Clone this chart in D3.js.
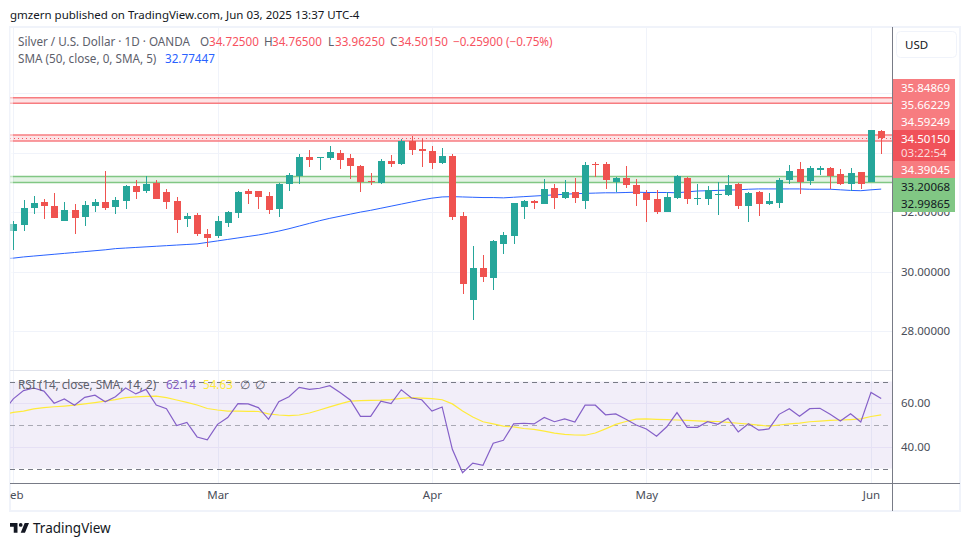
<!DOCTYPE html>
<html>
<head>
<meta charset="utf-8">
<script src="https://cdn.jsdelivr.net/npm/d3@7"></script>
<style>
    html, body { margin: 0; padding: 0; background: #fff; }
    svg { display: block; }
    text { font-family: "Noto Sans", sans-serif; white-space: pre; }
</style>
</head>
<body>
<svg width="970" height="546"></svg>
<script>
// daily candles, index 0 is Feb 3
var opens = [31.36,31.57,32.14,32.34,32.20,31.70,32.07,31.84,32.20,32.34,32.17,32.37,32.88,32.71,32.98,32.68,32.37,31.77,31.90,31.26,31.19,31.63,31.97,32.71,32.71,32.54,32.10,32.95,33.22,33.85,33.82,33.82,33.99,33.82,33.55,33.05,32.98,33.72,33.62,34.39,34.12,34.06,33.65,33.89,31.87,29.04,30.12,29.78,30.93,31.19,32.17,32.37,32.27,32.81,32.47,32.68,32.37,33.62,33.62,33.01,33.15,32.91,32.64,32.44,32.00,32.47,33.15,32.44,32.44,32.58,32.58,32.95,32.20,32.68,32.27,32.31,33.08,33.45,33.05,33.42,33.48,33.28,32.95,33.35,33.01,34.725];
var highs = [31.70,32.41,32.54,32.44,32.64,32.34,32.27,32.37,32.44,33.38,32.51,32.91,33.08,33.22,33.08,32.78,32.51,31.97,31.97,31.43,31.87,32.04,32.71,32.78,32.71,32.68,32.98,33.32,33.96,34.09,33.85,34.22,34.09,33.96,33.59,33.32,33.79,33.92,34.46,34.56,34.46,34.22,34.16,33.96,32.00,30.86,30.56,31.06,31.33,32.31,32.41,32.41,33.11,32.95,33.08,33.15,33.69,33.69,33.69,33.18,33.55,33.11,32.74,32.74,32.68,33.25,33.18,32.95,32.88,33.01,33.25,32.98,32.68,32.71,32.64,33.15,33.59,33.69,33.55,33.55,33.52,33.45,33.48,33.35,34.76,34.765];
var lows = [30.72,31.36,31.94,31.77,31.80,31.70,31.26,31.53,32.00,32.07,31.94,32.10,32.44,32.64,32.44,32.10,31.30,31.50,31.19,30.83,31.13,31.50,31.80,32.27,32.10,31.94,31.84,32.71,32.95,33.52,33.42,33.75,33.45,33.11,32.68,32.91,32.95,33.52,33.59,33.92,33.52,33.45,33.62,31.73,29.24,28.37,29.65,29.38,30.59,30.93,31.77,32.10,32.27,32.10,32.44,32.31,32.10,33.18,32.78,32.68,32.81,32.20,31.67,31.94,32.00,32.44,32.27,32.24,32.24,31.90,32.54,32.10,31.67,31.87,32.24,32.14,32.95,32.61,32.91,33.25,32.78,32.91,32.71,32.78,33.01,33.9625];
var closes = [31.60,32.14,32.31,32.20,31.80,32.07,31.80,32.24,32.34,32.14,32.41,32.88,32.68,32.95,32.44,32.34,31.73,31.87,31.26,31.13,31.70,32.00,32.68,32.61,32.51,32.07,32.95,33.25,33.85,33.75,33.85,34.02,33.75,33.55,33.01,33.01,33.72,33.62,34.39,34.09,34.06,33.65,33.89,31.84,29.58,30.12,29.81,31.03,31.23,32.31,32.37,32.31,32.78,32.47,32.68,32.47,33.59,33.59,33.08,33.15,32.91,32.61,32.41,32.00,32.51,33.22,32.44,32.47,32.74,32.61,32.91,32.20,32.64,32.27,32.37,33.08,33.38,33.01,33.48,33.48,33.22,32.95,33.32,32.95,34.76,34.5015];

// these three start one day earlier (index -1), the line runs off the left edge
var sma50 = [30.43,30.45,30.49,30.52,30.55,30.58,30.61,30.64,30.67,30.70,30.73,30.77,30.79,30.81,30.83,30.85,30.87,30.89,30.91,30.93,30.98,31.03,31.08,31.13,31.18,31.23,31.29,31.36,31.44,31.53,31.62,31.71,31.79,31.86,31.93,32.00,32.06,32.13,32.20,32.27,32.34,32.41,32.47,32.51,32.52,32.51,32.50,32.49,32.49,32.48,32.50,32.52,32.54,32.56,32.58,32.60,32.62,32.63,32.64,32.65,32.65,32.66,32.67,32.66,32.66,32.66,32.65,32.68,32.71,32.72,32.73,32.74,32.75,32.77,32.78,32.78,32.78,32.78,32.78,32.77,32.77,32.77,32.75,32.73,32.72,32.75,32.77447];
var rsi = [56,62.0,65.8,67.0,65.6,60.0,62.0,59.1,62.7,63.7,60.7,63.0,67.0,64.3,66.4,59.2,57.5,49.7,51.2,44.5,43.2,50.3,53.4,59.8,59.7,58.0,52.6,60.7,63.0,67.3,66.4,66.9,68.1,64.9,61.5,54.0,54.0,61.0,59.8,66.2,62.4,61.6,56.4,58.3,38.8,28.1,32.5,31.5,41.6,43.0,50.5,50.8,50.5,53.5,51.5,52.8,51.4,59.1,59.1,54.7,55.1,52.6,50.0,48.2,44.8,49.2,55.7,48.9,48.9,51.5,50.3,53.1,46.8,50.6,47.6,48.2,54.9,57.5,54.0,57.5,57.7,54.9,51.8,55.2,51.4,65.0,62.14];
var rsiMa = [54.8,55.8,56.4,57.4,58.0,58.4,58.7,59.1,59.7,60.3,61.0,61.7,62.6,62.9,63.2,63.3,62.6,61.5,60.4,59.2,57.6,56.9,56.4,56.4,56.3,56.2,55.1,54.6,54.3,54.6,55.5,56.9,58.3,59.7,61.0,61.2,61.3,61.4,61.7,62.2,62.6,62.4,62.1,61.6,59.7,56.4,53.7,51.5,50.5,49.5,49.1,48.4,48.0,47.2,46.3,45.7,45.4,45.3,46.3,48.2,50.3,51.6,52.7,52.8,52.6,52.5,52.3,52.1,51.9,51.7,51.6,51.2,50.8,50.4,49.9,49.5,50.0,50.5,50.9,51.5,51.8,52.1,52.3,52.5,52.8,53.9,54.63];

var monthLabels = ['Feb', 'Mar', 'Apr', 'May', 'Jun'];
var monthIndex = [0, 20, 41, 62, 84];
var priceTicks = [28, 30, 32];
var priceGrid = [28, 30, 32, 34, 36];
var rsiTicks = [40, 60];
var rsiBands = [70, 50, 30];

var redZones = [[35.84869, 35.66229], [34.59249, 34.39045]];
var greenZones = [[33.20068, 32.99865]];

var lastPrice = 34.5015;
var priceTags = [
    { text: '35.84869', kind: 'zone' },
    { text: '35.66229', kind: 'zone' },
    { text: '34.59249', kind: 'zone' },
    { text: '34.39045', kind: 'zone' },
    { text: '33.20068', kind: 'green' },
    { text: '32.99865', kind: 'green' }
];

var teal = '#26a69a';
var red = '#ef5350';
var blue = '#2962ff';
var purple = '#8560c8';
var yellow = '#ffeb3b';
var gridColor = '#f0f3fa';
var axisColor = '#787b86';
var labelColor = '#4a4e59';

var leftX = 10;
var rightX = 892;
var topY = 28;
var priceBottom = 370;
var timeAxisY = 483;
var axisFont = 11.5;

var svg = d3.select('svg');

var x = d3.scaleLinear().domain([0, 85]).range([13.3, 881.2]);
var y = d3.scaleLinear().domain([28, 30]).range([330.9, 271.5]);
var yRsi = d3.scaleLinear().domain([30, 70]).range([468.5, 381.5]);

var defs = svg.append('defs');
defs.append('clipPath').attr('id', 'pane').append('rect')
    .attr('x', leftX).attr('y', topY).attr('width', rightX - leftX).attr('height', timeAxisY - topY);
defs.append('clipPath').attr('id', 'timeClip').append('rect')
    .attr('x', leftX).attr('y', timeAxisY).attr('width', 950).attr('height', 27);

// outer frame
svg.append('rect')
    .attr('x', 10).attr('y', 27).attr('width', 950).attr('height', 484)
    .attr('fill', 'none').attr('stroke', gridColor).attr('stroke-width', 2);

var pane = svg.append('g').attr('clip-path', 'url(#pane)');

// grid
pane.selectAll('.vgrid').data(monthIndex).enter().append('line')
    .attr('x1', function(d) { return Math.round(x(d)) + 0.5; })
    .attr('x2', function(d) { return Math.round(x(d)) + 0.5; })
    .attr('y1', topY).attr('y2', timeAxisY)
    .attr('stroke', gridColor);
pane.selectAll('.hgrid').data(priceGrid).enter().append('line')
    .attr('x1', leftX).attr('x2', rightX)
    .attr('y1', function(d) { return Math.round(y(d)) + 0.5; })
    .attr('y2', function(d) { return Math.round(y(d)) + 0.5; })
    .attr('stroke', gridColor);

function drawZones(zones, fill, stroke) {
    zones.forEach(function(z) {
        pane.append('rect')
            .attr('x', leftX).attr('width', rightX - leftX)
            .attr('y', y(z[0])).attr('height', y(z[1]) - y(z[0]))
            .attr('fill', fill);
        z.forEach(function(level) {
            pane.append('line')
                .attr('x1', leftX).attr('x2', rightX)
                .attr('y1', y(level)).attr('y2', y(level))
                .attr('stroke', stroke).attr('stroke-width', 1.5);
        });
    });
}
drawZones(redZones, 'rgba(242,54,69,0.14)', '#f77c80');
drawZones(greenZones, 'rgba(76,175,80,0.15)', '#81c784');

// last price line
pane.append('line')
    .attr('x1', leftX).attr('x2', rightX)
    .attr('y1', Math.round(y(lastPrice)) + 0.5).attr('y2', Math.round(y(lastPrice)) + 0.5)
    .attr('stroke', '#f7525f').attr('stroke-dasharray', '1 3');

// sma under the candles
var smaLine = d3.line()
    .x(function(d, i) { return x(i - 1); })
    .y(function(d) { return y(d); });
pane.append('path').attr('d', smaLine(sma50))
    .attr('fill', 'none').attr('stroke', blue).attr('stroke-width', 1);

// candles
function bodyTop(i) { return Math.round(y(Math.max(closes[i], opens[i]))); }
function bodyBottom(i) { return Math.round(y(Math.min(closes[i], opens[i]))); }
var candle = pane.selectAll('.candle').data(closes).enter().append('g');
candle.append('rect')
    .attr('x', function(d, i) { return Math.round(x(i)); })
    .attr('width', 1)
    .attr('y', function(d, i) { return Math.round(y(highs[i])); })
    .attr('height', function(d, i) { return Math.round(y(lows[i])) - Math.round(y(highs[i])); })
    .attr('fill', function(d, i) { return d >= opens[i] ? teal : red; });
candle.append('rect')
    .attr('x', function(d, i) { return Math.round(x(i)) - 3; })
    .attr('width', 7)
    .attr('y', function(d, i) { return bodyTop(i); })
    .attr('height', function(d, i) { return Math.max(1, bodyBottom(i) - bodyTop(i)); })
    .attr('fill', function(d, i) { return d >= opens[i] ? teal : red; });

// left edge of the pane is washed out
pane.append('rect')
    .attr('x', leftX).attr('y', topY).attr('width', 3).attr('height', timeAxisY - topY)
    .attr('fill', 'rgba(255,255,255,0.55)');

// pane separator
svg.append('line')
    .attr('x1', leftX).attr('x2', rightX).attr('y1', priceBottom + 0.5).attr('y2', priceBottom + 0.5)
    .attr('stroke', '#e0e3eb');

// rsi pane
pane.append('rect')
    .attr('x', leftX).attr('width', rightX - leftX)
    .attr('y', yRsi(70)).attr('height', yRsi(30) - yRsi(70))
    .attr('fill', 'rgba(126,87,194,0.1)');
pane.selectAll('.rsigrid').data(rsiTicks).enter().append('line')
    .attr('x1', leftX).attr('x2', rightX)
    .attr('y1', function(d) { return Math.round(yRsi(d)) + 0.5; })
    .attr('y2', function(d) { return Math.round(yRsi(d)) + 0.5; })
    .attr('stroke', '#e6e0f5');
pane.selectAll('.band').data(rsiBands).enter().append('line')
    .attr('x1', leftX).attr('x2', rightX)
    .attr('y1', function(d) { return Math.round(yRsi(d)) + 0.5; })
    .attr('y2', function(d) { return Math.round(yRsi(d)) + 0.5; })
    .attr('stroke', axisColor)
    .attr('stroke-opacity', function(d) { return d === 50 ? 0.6 : 1; })
    .attr('stroke-dasharray', '5 4');

var rsiLine = d3.line()
    .x(function(d, i) { return x(i - 1); })
    .y(function(d) { return yRsi(d); });
pane.append('path').attr('d', rsiLine(rsiMa))
    .attr('fill', 'none').attr('stroke', yellow).attr('stroke-width', 1.2);
pane.append('path').attr('d', rsiLine(rsi))
    .attr('fill', 'none').attr('stroke', purple).attr('stroke-width', 1.2);

// time axis
svg.append('line')
    .attr('x1', leftX).attr('x2', 960).attr('y1', timeAxisY + 0.5).attr('y2', timeAxisY + 0.5)
    .attr('stroke', axisColor);
var timeAxis = d3.axisBottom(x)
    .tickValues(monthIndex)
    .tickSize(0)
    .tickPadding(8)
    .tickFormat(function(d, i) { return monthLabels[i]; });
var timeG = svg.append('g')
    .attr('clip-path', 'url(#timeClip)')
    .append('g')
    .attr('transform', 'translate(0,' + timeAxisY + ')')
    .call(timeAxis);
timeG.select('.domain').remove();
timeG.selectAll('text')
    .attr('font-size', axisFont).style('font-family', '"Noto Sans", sans-serif').attr('fill', labelColor);

// price scale
var priceAxis = d3.axisRight(y).tickValues(priceTicks).tickSize(0).tickPadding(9)
    .tickFormat(d3.format('.5f'));
var priceG = svg.append('g').attr('transform', 'translate(' + rightX + ',0)').call(priceAxis);
priceG.select('.domain').remove();
priceG.selectAll('text')
    .attr('font-size', axisFont).style('font-family', '"Noto Sans", sans-serif').attr('fill', labelColor);

var rsiAxis = d3.axisRight(yRsi).tickValues(rsiTicks).tickSize(0).tickPadding(9)
    .tickFormat(d3.format('.2f'));
var rsiG = svg.append('g').attr('transform', 'translate(' + rightX + ',0)').call(rsiAxis);
rsiG.select('.domain').remove();
rsiG.selectAll('text')
    .attr('font-size', axisFont).style('font-family', '"Noto Sans", sans-serif').attr('fill', labelColor);

// price tags
var tagTop = { '35.84869': 79, '35.66229': 96, '34.59249': 113, '34.39045': 161, '33.20068': 178, '32.99865': 195 };
var tagRows = svg.selectAll('.tag').data(priceTags).enter().append('g');
tagRows.append('rect')
    .attr('x', 893).attr('width', 62)
    .attr('y', function(d) { return tagTop[d.text]; })
    .attr('height', 17)
    .attr('fill', function(d) { return d.kind === 'green' ? '#81c784' : '#f77c80'; });
tagRows.append('text')
    .attr('x', 901)
    .attr('y', function(d) { return tagTop[d.text] + 13; })
    .attr('font-size', axisFont)
    .attr('fill', function(d) { return d.kind === 'green' ? '#131722' : '#fff'; })
    .text(function(d) { return d.text; });

svg.append('rect').attr('x', 893).attr('y', 130).attr('width', 62).attr('height', 31).attr('fill', '#f0525a');
svg.append('text').attr('x', 901).attr('y', 143).attr('font-size', axisFont).attr('fill', '#fff')
    .text('34.50150');
svg.append('text').attr('x', 901).attr('y', 157).attr('font-size', axisFont).attr('fill', '#fff').attr('fill-opacity', 0.8)
    .text('03:22:54');

// axis borders on top
svg.append('line')
    .attr('x1', rightX + 0.5).attr('x2', rightX + 0.5).attr('y1', topY - 1).attr('y2', 511)
    .attr('stroke', axisColor);

// currency button
svg.append('rect')
    .attr('x', 896.5).attr('y', 31.5).attr('width', 60).attr('height', 26).attr('rx', 4)
    .attr('fill', '#fff').attr('stroke', gridColor);
svg.append('text').attr('x', 905).attr('y', 49).attr('font-size', axisFont).attr('fill', '#131722').text('USD');

// header text
svg.append('text').attr('x', 10).attr('y', 19).attr('font-size', 11.5).attr('fill', '#131722')
    .text('gmzern published on TradingView.com, Jun 03, 2025 13:37 UTC-4');

var legendGrey = '#5d606b';
var legendRed = '#f7525f';
function legendRow(yPos, parts) {
    parts.forEach(function(p) {
        svg.append('text')
            .attr('x', p[2]).attr('y', yPos)
            .attr('font-size', 11.7)
            .attr('fill', p[1])
            .text(p[0]);
    });
}
legendRow(46, [
    ['Silver / U.S. Dollar · 1D · OANDA', legendGrey, 18],
    ['O', legendGrey, 200], ['34.72500', legendRed, 209],
    ['H', legendGrey, 264], ['34.76500', legendRed, 272],
    ['L', legendGrey, 328], ['33.96250', legendRed, 335],
    ['C', legendGrey, 390], ['34.50150', legendRed, 398],
    ['−0.25900 (−0.75%)', legendRed, 453]
]);
legendRow(63, [['SMA (50, close, 0, SMA, 5)', legendGrey, 18], ['32.77447', blue, 165]]);
legendRow(389, [
    ['RSI (14, close, SMA, 14, 2)', legendGrey, 18],
    ['62.14', purple, 166], ['54.63', yellow, 203],
    ['∅', legendGrey, 240], ['∅', legendGrey, 255]
]);

// footer logo
svg.append('path')
    .attr('d', 'M14 25H7V14H0V7h14v18zM28 25h-8l7.5-18h8L28 25zM20 14a3.5 3.5 0 1 0 0-7 3.5 3.5 0 0 0 0 7z')
    .attr('transform', 'translate(10,519.3) scale(0.535)')
    .attr('fill', '#131722');
svg.append('text').attr('x', 33).attr('y', 533).attr('font-size', 13.5).attr('fill', '#131722').text('TradingView');
</script>
</body>
</html>
